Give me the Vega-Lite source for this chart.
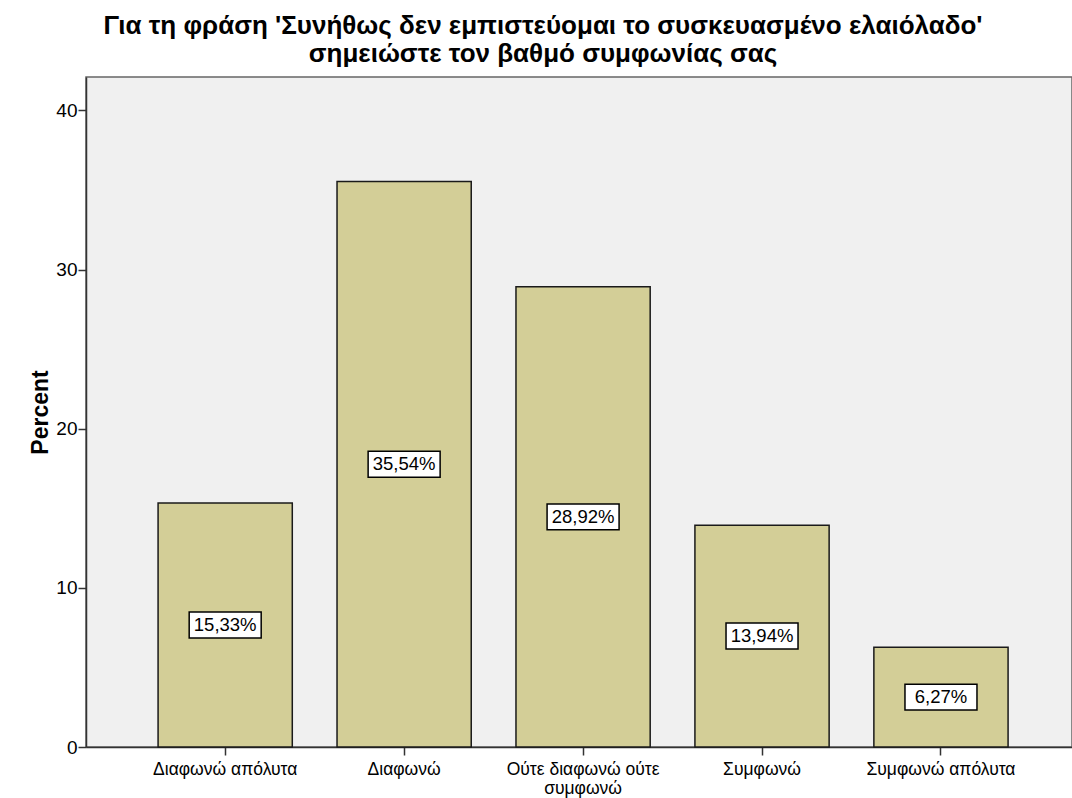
{
  "$schema": "https://vega.github.io/schema/vega-lite/v6.json",
  "width": 986,
  "height": 670,
  "autosize": {"type": "none"},
  "padding": {"left": 86, "top": 77, "right": 0, "bottom": 51},
  "background": "white",
  "title": {
    "text": ["Για τη φράση 'Συνήθως δεν εμπιστεύομαι το συσκευασμένο ελαιόλαδο'", "σημειώστε τον βαθμό συμφωνίας σας"],
    "font": "Liberation Sans",
    "fontSize": 26,
    "fontWeight": "bold",
    "lineHeight": 28,
    "color": "#000000",
    "anchor": "middle",
    "dx": -36,
    "offset": 10
  },
  "data": {
    "values": [
      {"category": "Διαφωνώ απόλυτα", "percent": 15.33, "label": "15,33%"},
      {"category": "Διαφωνώ", "percent": 35.54, "label": "35,54%"},
      {"category": "Ούτε διαφωνώ ούτε συμφωνώ", "percent": 28.92, "label": "28,92%"},
      {"category": "Συμφωνώ", "percent": 13.94, "label": "13,94%"},
      {"category": "Συμφωνώ απόλυτα", "percent": 6.27, "label": "6,27%"}
    ]
  },
  "transform": [{"calculate": "datum.percent / 2", "as": "mid"}],
  "encoding": {
    "x": {
      "field": "category",
      "type": "nominal",
      "sort": null,
      "scale": {"paddingInner": 0.25, "paddingOuter": 0.38, "align": 0.53},
      "axis": {
        "title": null,
        "labelAngle": 0,
        "labelFont": "Liberation Sans",
        "labelFontSize": 17.5,
        "labelColor": "#000000",
        "labelPadding": 5,
        "labelLineHeight": 19,
        "labelExpr": "datum.label == 'Ούτε διαφωνώ ούτε συμφωνώ' ? ['Ούτε διαφωνώ ούτε', 'συμφωνώ'] : datum.label",
        "tickSize": 8,
        "tickColor": "#333333",
        "tickWidth": 1.5,
        "domainColor": "#333333",
        "domainWidth": 1.5
      }
    }
  },
  "layer": [
    {
      "mark": {"type": "bar", "fill": "#d3ce97", "stroke": "#1a1a1a", "strokeWidth": 1.5},
      "encoding": {
        "y": {
          "field": "percent",
          "type": "quantitative",
          "scale": {"domain": [0, 42.1], "nice": false},
          "axis": {
            "title": "Percent",
            "titleFont": "Liberation Sans",
            "titleFontSize": 23,
            "titleFontWeight": "bold",
            "titleColor": "#000000",
            "titlePadding": 3,
            "values": [0, 10, 20, 30, 40],
            "grid": false,
            "labelFont": "Liberation Sans",
            "labelFontSize": 19,
            "labelColor": "#000000",
            "labelPadding": 1,
            "tickSize": 8,
            "tickColor": "#333333",
            "tickWidth": 1.5,
            "domainColor": "#333333",
            "domainWidth": 1.5
          }
        }
      }
    },
    {
      "mark": {
        "type": "point",
        "shape": "M-1,-0.36H1V0.36H-1Z",
        "size": 5184,
        "filled": true,
        "fill": "#ffffff",
        "stroke": "#000000",
        "strokeWidth": 1.5,
        "opacity": 1
      },
      "encoding": {
        "y": {"field": "mid", "type": "quantitative"}
      }
    },
    {
      "mark": {"type": "text", "font": "Liberation Sans", "fontSize": 18.5, "color": "#000000"},
      "encoding": {
        "y": {"field": "mid", "type": "quantitative"},
        "text": {"field": "label"}
      }
    }
  ],
  "config": {
    "view": {"fill": "#f0f0f0", "stroke": "#666666", "strokeWidth": 1.5}
  }
}
